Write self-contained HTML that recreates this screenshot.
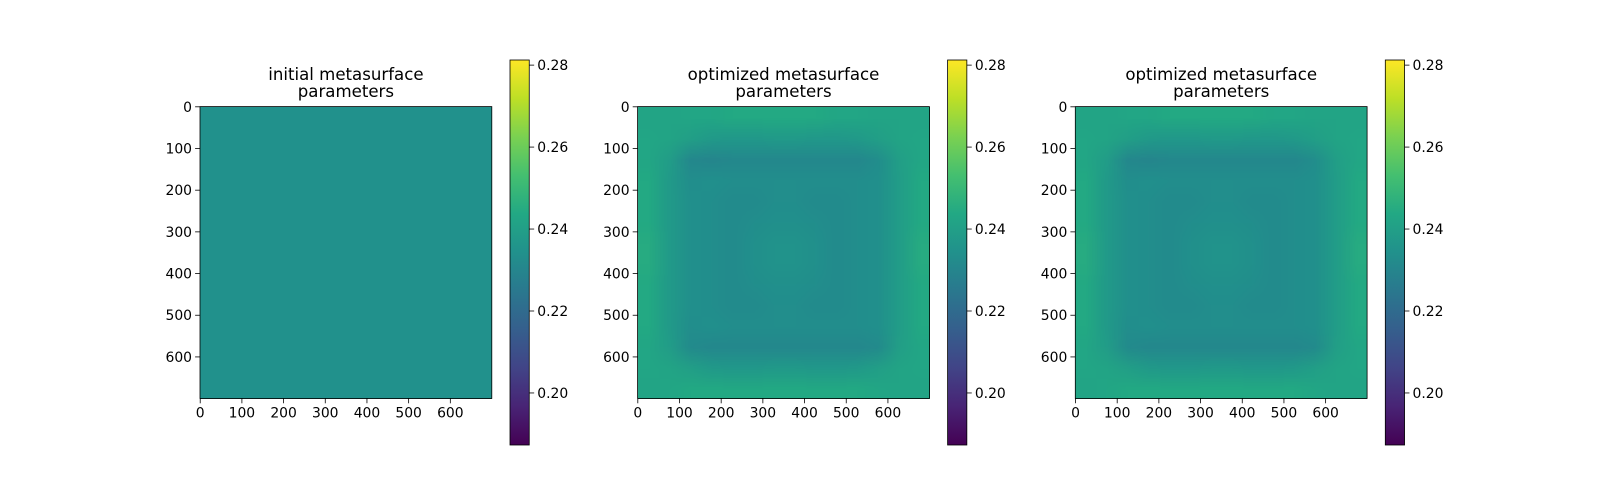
<!DOCTYPE html>
<html><head><meta charset="utf-8"><style>
body{margin:0;background:#fff;width:1600px;height:500px;overflow:hidden;position:relative;font-family:"DejaVu Sans","Liberation Sans",sans-serif}
canvas{position:absolute}
svg{position:absolute;left:0;top:0}
text{font-family:"DejaVu Sans","Liberation Sans",sans-serif;font-size:13.9px;fill:#000}
text.title{font-size:16.6px}
</style></head><body>
<div id="fig"></div>
<script>
const vmin=0.1873, vmax=0.28125;
const cbTicks=[0.20,0.22,0.24,0.26,0.28];
const axTicks=[0,100,200,300,400,500,600];
const titles=[["initial metasurface ","parameters"],["optimized metasurface ","parameters"],["optimized metasurface ","parameters"]];
const initialValue=0.2343;
const optGrid1=[
[242,242,243,243,244,244,244,244,244,243,243,242,242,242],
[243,242,240,238,237,237,238,238,237,237,238,240,242,243],
[243,239,231,230,231,231,231,231,231,231,231,233,240,243],
[244,238,233,234,233,233,233,233,233,233,233,234,239,244],
[244,238,234,233,232,232,233,233,232,232,233,234,239,244],
[244,238,234,233,232,233,234,234,233,232,233,234,239,244],
[245,238,234,233,232,234,235,235,234,232,233,234,239,245],
[245,238,234,233,232,234,235,235,234,232,233,234,239,245],
[244,238,234,233,232,233,234,234,233,232,233,234,239,244],
[244,238,234,233,232,232,233,233,232,232,233,234,239,244],
[244,238,233,234,233,233,233,233,233,233,233,234,239,244],
[243,239,232,231,231,231,231,231,231,231,231,232,240,243],
[243,242,240,238,237,237,238,238,237,237,238,240,242,243],
[242,243,244,244,244,244,244,244,244,244,244,243,242,242]];
const optGrid2=[
[242,242,243,243,244,244,244,244,244,243,243,242,242,242],
[243,242,240,238,237,237,238,238,237,237,238,240,242,243],
[243,239,231,230,231,231,231,231,231,231,231,233,240,243],
[244,238,233,234,233,233,233,233,233,233,233,234,239,244],
[244,238,234,233,232,232,233,233,232,232,233,234,239,244],
[244,238,234,233,232,233,234,234,233,232,233,234,239,244],
[245,238,234,233,232,234,235,235,234,232,233,234,239,245],
[245,238,234,233,232,234,235,235,234,232,233,234,239,245],
[244,238,234,233,232,233,234,234,233,232,233,234,239,244],
[244,238,234,233,232,232,233,233,232,232,233,234,239,244],
[244,238,233,234,233,233,233,233,233,233,233,234,239,244],
[243,239,232,231,231,231,231,231,231,231,231,232,240,243],
[243,242,240,238,237,237,238,238,237,237,238,240,242,243],
[242,243,244,244,244,244,244,244,244,244,244,243,242,242]];

const vir=["#440154","#482475","#414487","#355f8d","#2a788e","#21918c","#22a884","#44bf70","#7ad151","#bddf26","#fde725"];
function hex(h){return[parseInt(h.substr(1,2),16),parseInt(h.substr(3,2),16),parseInt(h.substr(5,2),16)]}
function cmap(v){let t=(v-vmin)/(vmax-vmin);t=Math.max(0,Math.min(1,t));const f=t*10,i=Math.min(9,Math.floor(f)),r=f-i;const a=hex(vir[i]),b=hex(vir[i+1]);return a.map((c,k)=>Math.round(c+(b[k]-c)*r))}

const NS="http://www.w3.org/2000/svg";
const svg=document.createElementNS(NS,"svg");
svg.setAttribute("width","1600");svg.setAttribute("height","500");


const fig=document.getElementById("fig");
function el(tag,attrs,parent){const e=document.createElementNS(NS,tag);for(const k in attrs)e.setAttribute(k,attrs[k]);(parent||svg).appendChild(e);return e}
const defs=el("defs",{});
const grad=el("linearGradient",{id:"vg",x1:"0",y1:"1",x2:"0",y2:"0"},defs);
vir.forEach((c,i)=>{el("stop",{offset:i/10,"stop-color":c},grad)});

const W=700, axW=291.8, top0=106.6, cbTop=60, cbH=385, cbW=19.25;
const panelX=[200,637.6,1075.3];
const grids=[null,optGrid1,optGrid2];
function xs(v,x0){return x0+(v+0.5)/W*axW}
function ys(v){return top0+(v+0.5)/W*axW}
function cy(v){return cbTop+cbH*(1-(v-vmin)/(vmax-vmin))}

panelX.forEach((x0,p)=>{
  const g=el("g",{});
  
  
  const cv=document.createElement("canvas");
  
  
  cv.style.left=x0+"px";cv.style.top=top0+"px";cv.width=Math.round(axW);cv.height=Math.round(axW);
  const ctx=cv.getContext("2d");
  if(!grids[p]){const c=cmap(initialValue);ctx.fillStyle=`rgb(${c})`;ctx.fillRect(0,0,cv.width,cv.height)}
  else{
    const gr=grids[p],n=gr.length;const sm=document.createElement("canvas");sm.width=n;sm.height=n;
    const sc=sm.getContext("2d");const id=sc.createImageData(n,n);
    gr.forEach((row,r)=>row.forEach((v,c)=>{const col=cmap(v/1000);const o=(r*n+c)*4;id.data[o]=col[0];id.data[o+1]=col[1];id.data[o+2]=col[2];id.data[o+3]=255}));
    sc.putImageData(id,0,0);ctx.imageSmoothingEnabled=true;ctx.drawImage(sm,0,0,cv.width,cv.height);
  }
  fig.appendChild(cv);
  const fr=el("rect",{x:x0,y:top0,width:axW,height:axW,fill:"none",stroke:"#000","stroke-width":0.8},g);
  
  
  axTicks.forEach(t=>{
    const x=xs(t,x0),yb=top0+axW;
    el("line",{x1:x,x2:x,y1:yb,y2:yb+4.9,stroke:"#000","stroke-width":0.8},g);
    const tx=el("text",{x:x,y:yb+19,"text-anchor":"middle"},g);tx.textContent=t;
    
    
    const y=ys(t);
    el("line",{x1:x0,x2:x0-4.9,y1:y,y2:y,stroke:"#000","stroke-width":0.8},g);
    const ty=el("text",{x:x0-8,y:y+5,"text-anchor":"end"},g);ty.textContent=t;
    
    
  });
  const cx=x0+axW/2;
  titles[p].forEach((s,i)=>{const t=el("text",{x:cx,y:80+i*17,"text-anchor":"middle","class":"title","xml:space":"preserve"},g);t.textContent=s;
    
    });
  const cbx=x0+axW+18.2;
  const cb=el("rect",{x:cbx,y:cbTop,width:cbW,height:cbH,fill:"url(#vg)",stroke:"#000","stroke-width":0.8},g);
  
  
  cbTicks.forEach(t=>{const y=cy(t);
    el("line",{x1:cbx+cbW,x2:cbx+cbW+4.9,y1:y,y2:y,stroke:"#000","stroke-width":0.8},g);
    const tt=el("text",{x:cbx+cbW+8,y:y+5},g);tt.textContent=t.toFixed(2);
    
    });
});
fig.appendChild(svg);
</script>
</body></html>
